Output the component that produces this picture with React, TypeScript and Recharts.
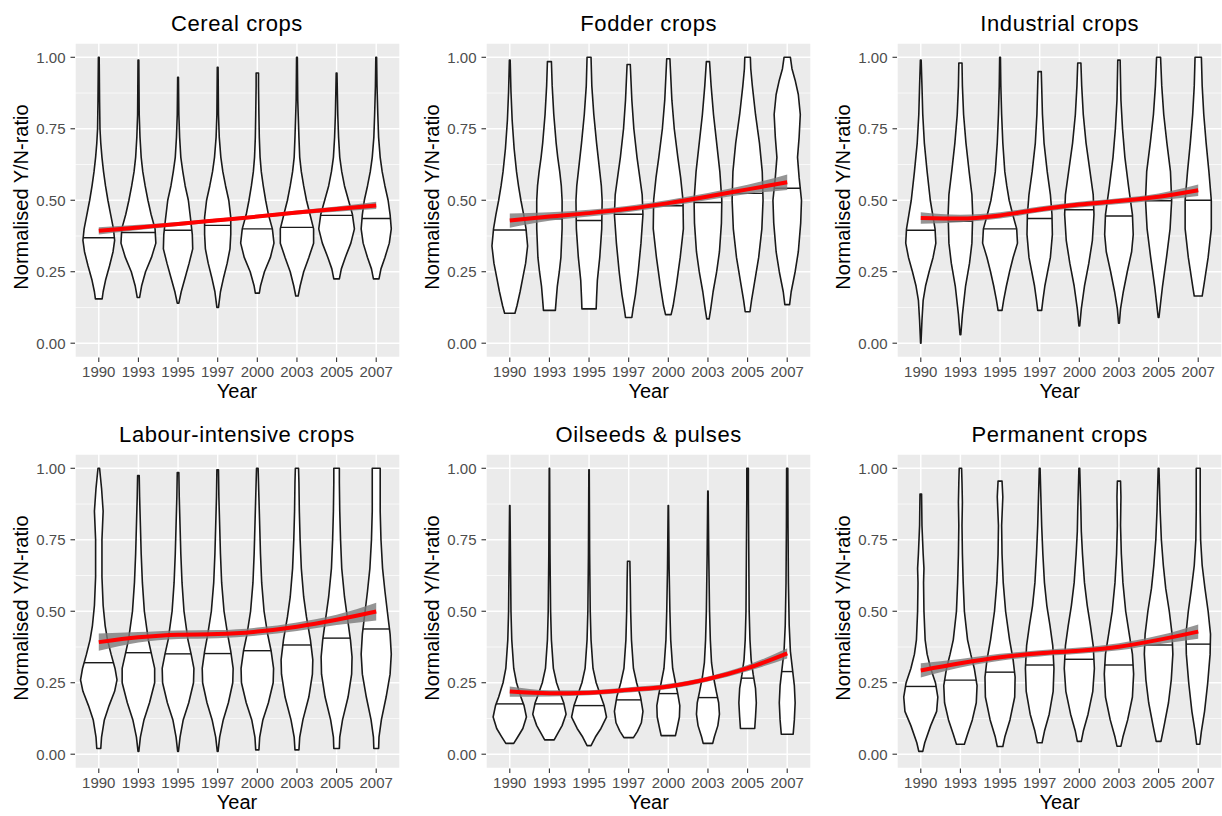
import React from "react";
import { CartesianGrid, ComposedChart, Curve, Scatter, XAxis, YAxis } from "recharts";

const FONT = "'Liberation Sans', Arial, sans-serif";

const years = ["1990", "1993", "1995", "1997", "2000", "2003", "2005", "2007"];
const xTicks = [1, 2, 3, 4, 5, 6, 7, 8];
const yTicks = [0, 0.25, 0.5, 0.75, 1];
const yMinor = [0.125, 0.375, 0.625, 0.875];

const titles = [
	"Cereal crops",
	"Fodder crops",
	"Industrial crops",
	"Labour-intensive crops",
	"Oilseeds & pulses",
	"Permanent crops",
];

// violin outlines: [value, half width in category units], bottom to top
const cerealViolins = [
	[[0.155, 0.085], [0.18, 0.11], [0.22, 0.17], [0.27, 0.27], [0.32, 0.36], [0.36, 0.4], [0.4, 0.37], [0.45, 0.3], [0.5, 0.23], [0.55, 0.17], [0.6, 0.12], [0.65, 0.08], [0.7, 0.05], [0.75, 0.03], [0.85, 0.02], [1.0, 0.01]],
	[[0.16, 0.03], [0.2, 0.08], [0.25, 0.18], [0.3, 0.33], [0.35, 0.44], [0.4, 0.42], [0.45, 0.32], [0.5, 0.24], [0.55, 0.17], [0.6, 0.11], [0.65, 0.07], [0.72, 0.04], [0.8, 0.02], [0.99, 0.01]],
	[[0.14, 0.02], [0.18, 0.08], [0.23, 0.18], [0.28, 0.28], [0.33, 0.37], [0.38, 0.36], [0.43, 0.32], [0.5, 0.26], [0.55, 0.18], [0.6, 0.12], [0.65, 0.07], [0.72, 0.04], [0.8, 0.02], [0.93, 0.01]],
	[[0.125, 0.02], [0.18, 0.07], [0.23, 0.15], [0.28, 0.24], [0.33, 0.31], [0.38, 0.33], [0.44, 0.33], [0.5, 0.28], [0.55, 0.2], [0.6, 0.13], [0.65, 0.08], [0.72, 0.04], [0.8, 0.02], [0.965, 0.01]],
	[[0.175, 0.05], [0.2, 0.08], [0.25, 0.18], [0.3, 0.33], [0.35, 0.42], [0.4, 0.38], [0.45, 0.28], [0.5, 0.21], [0.55, 0.15], [0.6, 0.1], [0.65, 0.07], [0.72, 0.05], [0.8, 0.04], [0.9, 0.03], [0.945, 0.03]],
	[[0.165, 0.03], [0.2, 0.08], [0.25, 0.17], [0.3, 0.3], [0.35, 0.42], [0.4, 0.42], [0.45, 0.33], [0.5, 0.24], [0.55, 0.17], [0.6, 0.11], [0.65, 0.07], [0.72, 0.05], [0.85, 0.02], [1.0, 0.01]],
	[[0.225, 0.07], [0.26, 0.12], [0.3, 0.22], [0.35, 0.36], [0.4, 0.45], [0.45, 0.4], [0.5, 0.3], [0.55, 0.2], [0.6, 0.13], [0.65, 0.08], [0.72, 0.05], [0.8, 0.03], [0.945, 0.01]],
	[[0.225, 0.07], [0.26, 0.12], [0.3, 0.22], [0.35, 0.33], [0.4, 0.38], [0.45, 0.35], [0.5, 0.3], [0.55, 0.22], [0.6, 0.15], [0.65, 0.1], [0.72, 0.06], [0.8, 0.04], [0.9, 0.02], [1.0, 0.01]],
];
const fodderViolins = [
	[[0.105, 0.13], [0.13, 0.18], [0.18, 0.26], [0.23, 0.33], [0.28, 0.4], [0.34, 0.45], [0.4, 0.41], [0.45, 0.35], [0.5, 0.28], [0.55, 0.22], [0.6, 0.17], [0.68, 0.11], [0.78, 0.06], [0.88, 0.03], [0.99, 0.01]],
	[[0.115, 0.15], [0.15, 0.17], [0.2, 0.2], [0.25, 0.25], [0.3, 0.29], [0.4, 0.32], [0.5, 0.32], [0.55, 0.3], [0.6, 0.26], [0.65, 0.21], [0.7, 0.17], [0.8, 0.11], [0.9, 0.07], [0.985, 0.05]],
	[[0.12, 0.18], [0.16, 0.19], [0.22, 0.21], [0.3, 0.27], [0.4, 0.32], [0.5, 0.33], [0.55, 0.31], [0.6, 0.27], [0.7, 0.19], [0.8, 0.12], [0.9, 0.07], [1.0, 0.05]],
	[[0.09, 0.08], [0.12, 0.11], [0.17, 0.17], [0.25, 0.24], [0.35, 0.31], [0.45, 0.36], [0.52, 0.34], [0.6, 0.26], [0.65, 0.21], [0.75, 0.13], [0.85, 0.08], [0.975, 0.04]],
	[[0.1, 0.07], [0.13, 0.12], [0.2, 0.2], [0.3, 0.3], [0.4, 0.38], [0.5, 0.37], [0.58, 0.31], [0.65, 0.24], [0.75, 0.15], [0.85, 0.09], [0.995, 0.04]],
	[[0.085, 0.03], [0.12, 0.07], [0.18, 0.13], [0.25, 0.22], [0.32, 0.29], [0.42, 0.34], [0.5, 0.35], [0.6, 0.3], [0.7, 0.22], [0.8, 0.14], [0.9, 0.08], [0.985, 0.04]],
	[[0.11, 0.06], [0.15, 0.1], [0.2, 0.16], [0.3, 0.28], [0.4, 0.36], [0.5, 0.39], [0.6, 0.37], [0.7, 0.3], [0.8, 0.2], [0.9, 0.12], [0.96, 0.08], [1.0, 0.07]],
	[[0.135, 0.06], [0.18, 0.1], [0.25, 0.2], [0.32, 0.28], [0.42, 0.34], [0.5, 0.36], [0.58, 0.3], [0.65, 0.26], [0.72, 0.3], [0.8, 0.33], [0.87, 0.28], [0.92, 0.2], [0.96, 0.12], [1.0, 0.08]],
];
const industrialViolins = [
	[[0.0, 0.005], [0.08, 0.03], [0.15, 0.06], [0.2, 0.12], [0.25, 0.21], [0.3, 0.31], [0.35, 0.38], [0.4, 0.36], [0.45, 0.3], [0.5, 0.24], [0.6, 0.16], [0.7, 0.09], [0.8, 0.05], [0.9, 0.03], [0.99, 0.01]],
	[[0.03, 0.01], [0.1, 0.05], [0.2, 0.13], [0.28, 0.23], [0.35, 0.29], [0.45, 0.31], [0.52, 0.29], [0.6, 0.22], [0.7, 0.14], [0.8, 0.08], [0.9, 0.05], [0.98, 0.04]],
	[[0.115, 0.05], [0.15, 0.09], [0.2, 0.16], [0.25, 0.24], [0.3, 0.33], [0.35, 0.44], [0.4, 0.42], [0.45, 0.32], [0.5, 0.23], [0.55, 0.17], [0.6, 0.12], [0.7, 0.07], [0.8, 0.04], [0.9, 0.02], [1.0, 0.01]],
	[[0.115, 0.05], [0.15, 0.08], [0.2, 0.13], [0.3, 0.27], [0.38, 0.32], [0.45, 0.31], [0.52, 0.27], [0.6, 0.19], [0.7, 0.11], [0.8, 0.07], [0.9, 0.05], [0.95, 0.04]],
	[[0.06, 0.01], [0.12, 0.05], [0.2, 0.13], [0.28, 0.24], [0.36, 0.33], [0.45, 0.37], [0.52, 0.35], [0.6, 0.27], [0.7, 0.17], [0.8, 0.1], [0.9, 0.06], [0.98, 0.04]],
	[[0.07, 0.01], [0.12, 0.04], [0.18, 0.11], [0.25, 0.21], [0.32, 0.32], [0.38, 0.36], [0.45, 0.34], [0.55, 0.24], [0.65, 0.15], [0.75, 0.09], [0.85, 0.05], [0.99, 0.03]],
	[[0.09, 0.01], [0.14, 0.05], [0.2, 0.1], [0.3, 0.2], [0.4, 0.29], [0.5, 0.33], [0.6, 0.3], [0.7, 0.21], [0.8, 0.13], [0.9, 0.08], [1.0, 0.05]],
	[[0.165, 0.1], [0.2, 0.14], [0.3, 0.25], [0.4, 0.33], [0.5, 0.33], [0.6, 0.27], [0.7, 0.2], [0.8, 0.14], [0.9, 0.1], [1.0, 0.08]],
];
const labourViolins = [
	[[0.02, 0.05], [0.06, 0.07], [0.12, 0.14], [0.17, 0.26], [0.22, 0.4], [0.26, 0.46], [0.3, 0.41], [0.35, 0.31], [0.4, 0.22], [0.45, 0.16], [0.52, 0.11], [0.62, 0.08], [0.75, 0.08], [0.85, 0.11], [0.93, 0.07], [1.0, 0.02]],
	[[0.01, 0.01], [0.06, 0.05], [0.12, 0.14], [0.18, 0.28], [0.25, 0.41], [0.3, 0.41], [0.35, 0.33], [0.4, 0.25], [0.5, 0.15], [0.6, 0.1], [0.7, 0.07], [0.8, 0.05], [0.9, 0.03], [0.975, 0.02]],
	[[0.01, 0.01], [0.06, 0.05], [0.12, 0.13], [0.18, 0.27], [0.25, 0.39], [0.3, 0.4], [0.35, 0.33], [0.4, 0.25], [0.5, 0.15], [0.6, 0.1], [0.7, 0.07], [0.8, 0.05], [0.9, 0.03], [0.985, 0.02]],
	[[0.01, 0.01], [0.06, 0.05], [0.12, 0.14], [0.18, 0.27], [0.25, 0.38], [0.3, 0.39], [0.36, 0.33], [0.42, 0.25], [0.5, 0.16], [0.6, 0.1], [0.7, 0.07], [0.8, 0.05], [0.9, 0.03], [0.995, 0.02]],
	[[0.015, 0.04], [0.06, 0.06], [0.12, 0.14], [0.18, 0.28], [0.25, 0.4], [0.3, 0.41], [0.36, 0.35], [0.42, 0.26], [0.5, 0.17], [0.6, 0.11], [0.7, 0.08], [0.8, 0.06], [0.9, 0.04], [1.0, 0.02]],
	[[0.015, 0.05], [0.06, 0.07], [0.12, 0.15], [0.2, 0.3], [0.28, 0.39], [0.33, 0.4], [0.4, 0.34], [0.48, 0.24], [0.55, 0.17], [0.65, 0.11], [0.75, 0.08], [0.85, 0.06], [0.95, 0.05], [1.0, 0.04]],
	[[0.02, 0.07], [0.06, 0.08], [0.12, 0.15], [0.2, 0.29], [0.28, 0.38], [0.34, 0.39], [0.4, 0.35], [0.48, 0.27], [0.55, 0.2], [0.65, 0.13], [0.75, 0.1], [0.85, 0.08], [0.95, 0.07], [1.0, 0.07]],
	[[0.02, 0.06], [0.06, 0.07], [0.12, 0.13], [0.2, 0.25], [0.28, 0.35], [0.35, 0.38], [0.42, 0.35], [0.5, 0.28], [0.57, 0.22], [0.65, 0.16], [0.75, 0.12], [0.85, 0.1], [0.95, 0.1], [1.0, 0.1]],
];
const oilseedViolins = [
	[[0.038, 0.1], [0.06, 0.2], [0.09, 0.33], [0.13, 0.42], [0.17, 0.36], [0.2, 0.28], [0.25, 0.17], [0.3, 0.1], [0.4, 0.05], [0.5, 0.03], [0.65, 0.02], [0.87, 0.005]],
	[[0.05, 0.12], [0.07, 0.2], [0.1, 0.32], [0.14, 0.42], [0.18, 0.36], [0.21, 0.28], [0.25, 0.18], [0.3, 0.1], [0.4, 0.05], [0.5, 0.03], [0.7, 0.015], [1.0, 0.005]],
	[[0.03, 0.05], [0.06, 0.16], [0.09, 0.3], [0.13, 0.44], [0.17, 0.38], [0.21, 0.28], [0.25, 0.18], [0.3, 0.1], [0.4, 0.05], [0.5, 0.03], [0.7, 0.015], [0.995, 0.005]],
	[[0.058, 0.12], [0.08, 0.22], [0.11, 0.32], [0.15, 0.36], [0.2, 0.3], [0.25, 0.2], [0.3, 0.12], [0.4, 0.07], [0.5, 0.05], [0.6, 0.04], [0.675, 0.03]],
	[[0.065, 0.18], [0.09, 0.22], [0.13, 0.28], [0.17, 0.29], [0.21, 0.24], [0.25, 0.18], [0.3, 0.11], [0.4, 0.06], [0.5, 0.04], [0.65, 0.02], [0.87, 0.005]],
	[[0.038, 0.12], [0.06, 0.16], [0.1, 0.25], [0.14, 0.29], [0.18, 0.27], [0.22, 0.21], [0.27, 0.14], [0.32, 0.09], [0.4, 0.06], [0.5, 0.04], [0.7, 0.02], [0.92, 0.005]],
	[[0.09, 0.18], [0.13, 0.2], [0.18, 0.22], [0.23, 0.2], [0.28, 0.14], [0.33, 0.09], [0.4, 0.06], [0.5, 0.04], [0.7, 0.03], [0.9, 0.02], [1.0, 0.02]],
	[[0.07, 0.15], [0.12, 0.18], [0.18, 0.2], [0.24, 0.18], [0.3, 0.13], [0.36, 0.08], [0.45, 0.05], [0.6, 0.03], [0.8, 0.02], [1.0, 0.015]],
];
const permanentViolins = [
	[[0.01, 0.05], [0.04, 0.1], [0.1, 0.25], [0.15, 0.4], [0.2, 0.43], [0.25, 0.37], [0.3, 0.25], [0.35, 0.16], [0.4, 0.11], [0.5, 0.08], [0.6, 0.07], [0.65, 0.08], [0.7, 0.06], [0.8, 0.03], [0.91, 0.02]],
	[[0.035, 0.1], [0.07, 0.18], [0.12, 0.3], [0.18, 0.4], [0.24, 0.42], [0.3, 0.35], [0.35, 0.26], [0.4, 0.18], [0.5, 0.1], [0.6, 0.07], [0.7, 0.05], [0.8, 0.04], [0.88, 0.05], [0.95, 0.04], [1.0, 0.03]],
	[[0.027, 0.07], [0.06, 0.12], [0.12, 0.25], [0.2, 0.37], [0.27, 0.38], [0.33, 0.33], [0.4, 0.24], [0.5, 0.14], [0.6, 0.08], [0.7, 0.05], [0.8, 0.04], [0.9, 0.07], [0.955, 0.05]],
	[[0.04, 0.06], [0.08, 0.12], [0.14, 0.24], [0.22, 0.34], [0.3, 0.36], [0.38, 0.33], [0.45, 0.26], [0.52, 0.18], [0.6, 0.12], [0.7, 0.08], [0.8, 0.05], [0.9, 0.03], [1.0, 0.01]],
	[[0.045, 0.05], [0.08, 0.1], [0.14, 0.22], [0.22, 0.34], [0.3, 0.38], [0.38, 0.35], [0.45, 0.28], [0.52, 0.2], [0.6, 0.13], [0.7, 0.08], [0.78, 0.05], [0.85, 0.04], [1.0, 0.01]],
	[[0.028, 0.05], [0.06, 0.1], [0.12, 0.22], [0.2, 0.34], [0.28, 0.37], [0.35, 0.34], [0.42, 0.26], [0.5, 0.17], [0.6, 0.1], [0.7, 0.06], [0.8, 0.04], [0.9, 0.05], [0.955, 0.04]],
	[[0.045, 0.06], [0.1, 0.14], [0.18, 0.25], [0.26, 0.32], [0.35, 0.36], [0.42, 0.34], [0.5, 0.27], [0.58, 0.18], [0.66, 0.12], [0.75, 0.07], [0.85, 0.04], [0.95, 0.02], [1.0, 0.01]],
	[[0.035, 0.04], [0.08, 0.08], [0.15, 0.16], [0.25, 0.24], [0.35, 0.3], [0.42, 0.31], [0.5, 0.25], [0.58, 0.17], [0.66, 0.1], [0.75, 0.06], [0.85, 0.05], [0.95, 0.05], [1.0, 0.05]],
];

// medians per year
const cerealMedians = [0.369, 0.387, 0.395, 0.412, 0.4, 0.405, 0.447, 0.436];
const fodderMedians = [0.396, 0.435, 0.429, 0.451, 0.481, 0.492, 0.524, 0.542];
const industrialMedians = [0.395, 0.426, 0.4, 0.436, 0.467, 0.445, 0.498, 0.5];
const labourMedians = [0.32, 0.355, 0.351, 0.352, 0.362, 0.382, 0.406, 0.438];
const oilseedMedians = [0.176, 0.176, 0.17, 0.19, 0.212, 0.198, 0.266, 0.289];
const permanentMedians = [0.237, 0.259, 0.287, 0.312, 0.332, 0.312, 0.382, 0.385];

// smoothed trend and its confidence band
const cerealFit = [0.393, 0.405, 0.417, 0.43, 0.443, 0.457, 0.469, 0.482];
const cerealLow = [0.38, 0.396, 0.41, 0.424, 0.437, 0.45, 0.46, 0.469];
const cerealHigh = [0.406, 0.414, 0.424, 0.436, 0.449, 0.464, 0.478, 0.495];
const fodderFit = [0.429, 0.443, 0.455, 0.47, 0.49, 0.513, 0.538, 0.563];
const fodderLow = [0.404, 0.428, 0.443, 0.459, 0.479, 0.501, 0.522, 0.536];
const fodderHigh = [0.454, 0.458, 0.467, 0.481, 0.501, 0.525, 0.554, 0.59];
const industrialFit = [0.438, 0.436, 0.447, 0.468, 0.485, 0.497, 0.512, 0.535];
const industrialLow = [0.418, 0.423, 0.436, 0.458, 0.475, 0.487, 0.5, 0.515];
const industrialHigh = [0.458, 0.449, 0.458, 0.478, 0.495, 0.507, 0.524, 0.555];
const labourFit = [0.392, 0.409, 0.418, 0.42, 0.429, 0.446, 0.47, 0.499];
const labourLow = [0.362, 0.391, 0.403, 0.406, 0.415, 0.431, 0.452, 0.468];
const labourHigh = [0.422, 0.427, 0.433, 0.434, 0.443, 0.461, 0.488, 0.53];
const oilseedFit = [0.219, 0.213, 0.215, 0.225, 0.237, 0.263, 0.301, 0.353];
const oilseedLow = [0.201, 0.202, 0.206, 0.216, 0.228, 0.254, 0.29, 0.335];
const oilseedHigh = [0.237, 0.224, 0.224, 0.234, 0.246, 0.272, 0.312, 0.371];
const permanentFit = [0.293, 0.318, 0.339, 0.353, 0.362, 0.376, 0.4, 0.429];
const permanentLow = [0.268, 0.303, 0.327, 0.342, 0.351, 0.364, 0.385, 0.404];
const permanentHigh = [0.318, 0.333, 0.351, 0.364, 0.373, 0.388, 0.415, 0.454];

const panels = [
	{ violins: cerealViolins, medians: cerealMedians, fit: cerealFit, low: cerealLow, high: cerealHigh },
	{ violins: fodderViolins, medians: fodderMedians, fit: fodderFit, low: fodderLow, high: fodderHigh },
	{ violins: industrialViolins, medians: industrialMedians, fit: industrialFit, low: industrialLow, high: industrialHigh },
	{ violins: labourViolins, medians: labourMedians, fit: labourFit, low: labourLow, high: labourHigh },
	{ violins: oilseedViolins, medians: oilseedMedians, fit: oilseedFit, low: oilseedLow, high: oilseedHigh },
	{ violins: permanentViolins, medians: permanentMedians, fit: permanentFit, low: permanentLow, high: permanentHigh },
];

// layout
const PLOT_LEFT = [74.5, 486.2, 897.2];
const PLOT_TOP = [43, 454];
const PLOT_W = 325;
const PLOT_H = 314.5;
const AXIS_W = 75;
const M_TOP = 10;
const TICK_FS = 15;

type Profile = number[][];

const outline = (i: number, profile: Profile) => [
	...profile.map(([y, w]) => ({ x: i + 1 + w, y })),
	...[...profile].reverse().map(([y, w]) => ({ x: i + 1 - w, y })),
];

const widthAt = (profile: Profile, v: number) => {
	for (let k = 0; k < profile.length - 1; k++) {
		const [y0, w0] = profile[k];
		const [y1, w1] = profile[k + 1];
		if (v >= y0 && v <= y1) return w0 + ((v - y0) / (y1 - y0)) * (w1 - w0);
	}
	return 0;
};

const noDot = () => <g />;

const violinShape = (props: any) => {
	const pts = props.points || [];
	if (!pts.length) return <g />;
	const d = pts.map((p: any, k: number) => `${k ? "L" : "M"}${p.x},${p.y}`).join("") + "Z";
	return <path d={d} fill="#ffffff" stroke="#1a1a1a" strokeWidth={1.6} strokeLinejoin="round" />;
};

const medianShape = (props: any) => {
	const pts = props.points || [];
	if (pts.length < 2) return <g />;
	return <line x1={pts[0].x} y1={pts[0].y} x2={pts[1].x} y2={pts[1].y} stroke="#1a1a1a" strokeWidth={1.4} />;
};

const bandShape = (props: any) => {
	const pts = props.points || [];
	const n = pts.length / 2;
	return (
		<Curve
			type="monotoneX"
			points={pts.slice(0, n)}
			baseLine={pts.slice(n)}
			fill="#7a7a7a"
			fillOpacity={0.8}
			stroke="none"
		/>
	);
};

const fitShape = (props: any) => (
	<Curve type="monotoneX" points={props.points || []} fill="none" stroke="#ff0000" strokeWidth={4} />
);

const AxisTick = (props: any) => {
	const { x, y, payload, textAnchor, orientation } = props;
	const label = orientation === "bottom" ? years[payload.value - 1] : Number(payload.value).toFixed(2);
	return (
		<text
			x={x}
			y={y}
			dy={orientation === "bottom" ? "0.71em" : "0.355em"}
			textAnchor={textAnchor}
			fill="#4d4d4d"
			fontSize={TICK_FS}
			fontFamily={FONT}
		>
			{label}
		</text>
	);
};

const Panel = ({ index }: { index: number }) => {
	const p = panels[index];
	const col = index % 3;
	const row = Math.floor(index / 3);
	const left = PLOT_LEFT[col];
	const top = PLOT_TOP[row];
	const bandData = [
		...p.high.map((v, i) => ({ x: i + 1, y: v })),
		...p.low.map((v, i) => ({ x: i + 1, y: v })),
	];
	const fitData = p.fit.map((v, i) => ({ x: i + 1, y: v }));

	return (
		<>
			<div
				style={{
					position: "absolute",
					left,
					width: PLOT_W,
					top: top - 30,
					textAlign: "center",
					fontFamily: FONT,
					fontSize: 22,
					lineHeight: "22px",
					letterSpacing: 0.6,
					color: "#000",
					whiteSpace: "nowrap",
				}}
			>
				{titles[index]}
			</div>
			<div
				style={{
					position: "absolute",
					left: left - 54 - 160,
					top: top + PLOT_H / 2 - 3 - 10,
					width: 320,
					height: 20,
					lineHeight: "20px",
					textAlign: "center",
					transform: "rotate(-90deg)",
					fontFamily: FONT,
					fontSize: 20,
					color: "#000",
					whiteSpace: "nowrap",
				}}
			>
				Normalised Y/N-ratio
			</div>
			<div
				style={{
					position: "absolute",
					left,
					width: PLOT_W,
					top: top + PLOT_H + 23,
					textAlign: "center",
					fontFamily: FONT,
					fontSize: 20,
					lineHeight: "20px",
					color: "#000",
				}}
			>
				Year
			</div>
			<div style={{ position: "absolute", left: left - AXIS_W, top: top - M_TOP }}>
				<ComposedChart
					width={AXIS_W + PLOT_W + 10}
					height={M_TOP + PLOT_H + 36}
					margin={{ top: M_TOP, right: 10, bottom: 6, left: 0 }}
				>
					<CartesianGrid
						fill="#ebebeb"
						stroke="#ffffff"
						strokeWidth={0.7}
						vertical={false}
						horizontalValues={yMinor}
					/>
					<CartesianGrid stroke="#ffffff" strokeWidth={1.4} />
					<XAxis
						type="number"
						dataKey="x"
						domain={[0.4, 8.6]}
						allowDataOverflow
						ticks={xTicks}
						interval={0}
						axisLine={false}
						tickLine={{ stroke: "#333333", strokeWidth: 1.1 }}
						tickSize={4.5}
						tickMargin={4}
						tick={<AxisTick />}
						height={30}
					/>
					<YAxis
						type="number"
						dataKey="y"
						domain={[-0.05, 1.05]}
						allowDataOverflow
						ticks={yTicks}
						interval={0}
						axisLine={false}
						tickLine={{ stroke: "#333333", strokeWidth: 1.1 }}
						tickSize={4.5}
						tickMargin={5}
						tick={<AxisTick />}
						width={AXIS_W}
					/>
					{p.violins.map((prof, i) => (
						<Scatter
							key={`v${i}`}
							data={outline(i, prof)}
							dataKey="y"
							shape={noDot}
							line={violinShape}
							isAnimationActive={false}
						/>
					))}
					{p.medians.map((m, i) => {
						const w = widthAt(p.violins[i], m);
						return (
							<Scatter
								key={`m${i}`}
								data={[
									{ x: i + 1 - w, y: m },
									{ x: i + 1 + w, y: m },
								]}
								dataKey="y"
								shape={noDot}
								line={medianShape}
								isAnimationActive={false}
							/>
						);
					})}
					<Scatter data={bandData} dataKey="y" shape={noDot} line={bandShape} isAnimationActive={false} />
					<Scatter data={fitData} dataKey="y" shape={noDot} line={fitShape} isAnimationActive={false} />
				</ComposedChart>
			</div>
		</>
	);
};

export default function App() {
	return (
		<div
			style={{
				position: "absolute",
				left: 0,
				top: 0,
				width: 1222,
				height: 816,
				background: "#ffffff",
				overflow: "hidden",
			}}
		>
			{panels.map((_, i) => (
				<Panel key={i} index={i} />
			))}
		</div>
	);
}
